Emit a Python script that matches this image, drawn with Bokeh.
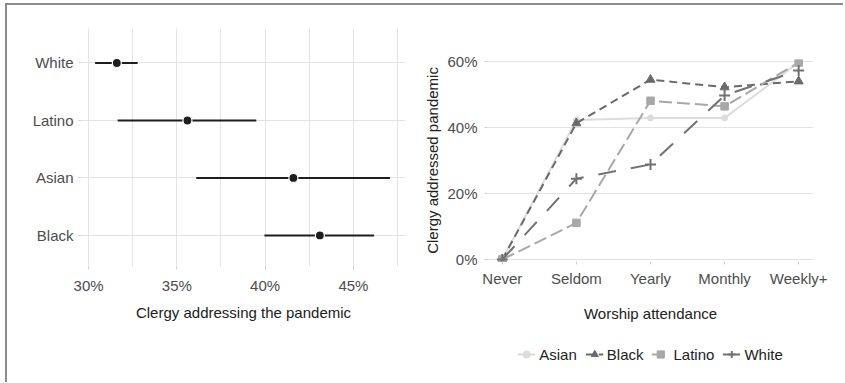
from bokeh.plotting import figure
from bokeh.layouts import row, column
from bokeh.models import (Range1d, FixedTicker, PrintfTickFormatter, ColumnDataSource,
                          Legend, LegendItem)
from bokeh.embed import file_html
from bokeh.resources import INLINE

# ---- data: left panel (dot + interval) ----
groups = ["Black", "Asian", "Latino", "White"]
estimate = [43.1, 41.6, 35.6, 31.6]
ci_low = [39.96, 36.1, 31.65, 30.37]
ci_high = [46.17, 47.07, 39.5, 32.78]

# ---- data: right panel (lines) ----
attendance = ["Never", "Seldom", "Yearly", "Monthly", "Weekly+"]
asian = [0.0, 42.3, 42.9, 42.9, 59.7]
black = [0.0, 41.3, 54.5, 52.2, 54.0]
latino = [0.0, 11.1, 48.1, 46.4, 59.7]
white = [0.0, 24.5, 28.8, 49.7, 57.3]

FONT = "Liberation Sans"
FS = "15px"
TICK_C = "#4d4d4d"
TITLE_C = "#222222"
GRID_C = "#e3e3e3"


def style_axis(ax, tick_standoff, label_standoff):
    ax.axis_line_color = None
    ax.major_tick_line_color = "#cfcfcf"
    ax.major_tick_out = 3
    ax.major_tick_in = 0
    ax.minor_tick_line_color = None
    ax.major_label_text_font = FONT
    ax.major_label_text_font_size = FS
    ax.major_label_text_color = TICK_C
    ax.major_label_standoff = tick_standoff
    ax.axis_label_text_font = FONT
    ax.axis_label_text_font_size = FS
    ax.axis_label_text_font_style = "normal"
    ax.axis_label_text_color = TITLE_C
    ax.axis_label_standoff = label_standoff


# ================= left figure =================
ypos = list(range(1, len(groups) + 1))
src1 = ColumnDataSource(dict(y=ypos, est=estimate, lo=ci_low, hi=ci_high))

p1 = figure(frame_width=324, frame_height=238, output_backend="svg", toolbar_location=None,
            x_range=Range1d(29.6, 47.95), y_range=Range1d(0.46, 4.6),
            min_border_left=74, min_border_right=10, min_border_top=23, min_border_bottom=116)
p1.outline_line_color = None
p1.background_fill_color = "white"
p1.border_fill_color = "white"

p1.segment(x0="lo", y0="y", x1="hi", y1="y", source=src1, line_color="#1e1e1e", line_width=2)
p1.scatter(x="est", y="y", source=src1, size=9, marker="circle", fill_color="#1e1e1e",
           line_color="white", line_width=1.2)

p1.xaxis.ticker = FixedTicker(ticks=[30, 35, 40, 45], minor_ticks=[30, 32.5, 35, 37.5, 40, 42.5, 45, 47.5])
p1.xaxis.formatter = PrintfTickFormatter(format="%d%%")
p1.xaxis.axis_label = "Clergy addressing the pandemic"
p1.yaxis.ticker = FixedTicker(ticks=ypos)
p1.yaxis.major_label_overrides = {y: g for y, g in zip(ypos, groups)}
style_axis(p1.xaxis[0], 6, 7)
style_axis(p1.yaxis[0], 5, 5)
p1.xgrid.grid_line_color = GRID_C
p1.xgrid.minor_grid_line_color = GRID_C
p1.ygrid.grid_line_color = GRID_C
p1.ygrid.ticker = FixedTicker(ticks=ypos)

# ================= right figure =================
xpos = list(range(1, len(attendance) + 1))
p2 = figure(frame_width=326, frame_height=202, output_backend="svg", toolbar_location=None,
            x_range=Range1d(0.8, 5.2), y_range=Range1d(-0.6, 60.6),
            min_border_left=72, min_border_right=30, min_border_top=54, min_border_bottom=66)
p2.outline_line_color = None
p2.border_fill_color = "white"

# legend-only figure under the right panel (same series, drawn outside its view)
pl = figure(frame_width=326, frame_height=22, output_backend="svg", toolbar_location=None,
            x_range=Range1d(100, 101), y_range=Range1d(100, 101),
            min_border_left=69, min_border_right=33, min_border_top=16, min_border_bottom=0)
pl.outline_line_color = None
pl.axis.visible = False
pl.grid.visible = False

series = [
    ("Asian", asian, "#dcdcdc", "solid", "circle", 6),
    ("Black", black, "#6a6a6a", "8 5", "triangle", 9),
    ("Latino", latino, "#a8a8a8", "13 5", "square", 7.5),
    ("White", white, "#727272", "18 15", "cross", 11),
]
items = []
for name, vals, col, dash, mk, sz in series:
    s = ColumnDataSource(dict(x=xpos, y=vals))
    rs = []
    for fig in (p2, pl):
        lr = fig.line("x", "y", source=s, line_color=col, line_width=2, line_dash=dash)
        if mk == "cross":
            sr = fig.scatter("x", "y", source=s, marker=mk, size=sz, line_color=col, line_width=2)
        else:
            sr = fig.scatter("x", "y", source=s, marker=mk, size=sz, fill_color=col, line_color=col)
        rs = [lr, sr]
    items.append(LegendItem(label=name, renderers=rs))

p2.xaxis.ticker = FixedTicker(ticks=xpos)
p2.xaxis.major_label_overrides = {x: a for x, a in zip(xpos, attendance)}
p2.xaxis.axis_label = "Worship attendance"
p2.yaxis.ticker = FixedTicker(ticks=[0, 20, 40, 60])
p2.yaxis.formatter = PrintfTickFormatter(format="%d%%")
p2.yaxis.axis_label = "Clergy addressed pandemic"
style_axis(p2.xaxis[0], 5, 15)
style_axis(p2.yaxis[0], 7, 3)
p2.xgrid.grid_line_color = None
p2.ygrid.grid_line_color = GRID_C

legend = Legend(items=items, orientation="horizontal", location="center",
                glyph_width=18, glyph_height=18, label_standoff=4, spacing=8, padding=0,
                margin=0, border_line_color=None, background_fill_alpha=0,
                label_text_font=FONT, label_text_font_size=FS, label_text_color=TITLE_C)
pl.add_layout(legend, "center")

layout = row(column(p1), column(p2, pl),
             styles={"border-top": "2px solid #8c8c8c", "border-left": "2px solid #8c8c8c",
                     "border-right": "none", "border-bottom": "none",
                     "margin-top": "3px", "margin-left": "5px"})

open("out.html", "w").write(file_html(layout, INLINE))
